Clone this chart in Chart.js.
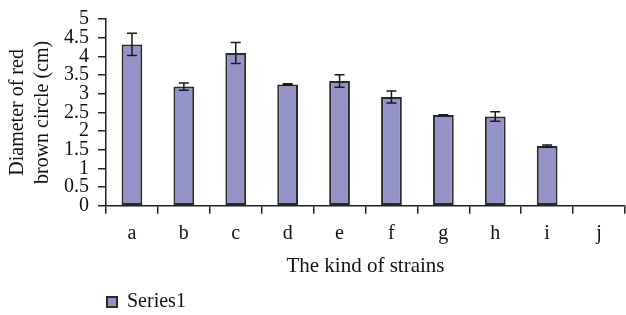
<!DOCTYPE html>
<html>
<head>
<meta charset="utf-8">
<script src="https://cdn.jsdelivr.net/npm/chart.js@4"></script>
<style>
  html, body { margin: 0; padding: 0; background: #fff; }
  #wrap { width: 626px; height: 315px; }
</style>
</head>
<body>
<div id="wrap"><canvas id="barChart"></canvas></div>
<script>
const strains = ['a', 'b', 'c', 'd', 'e', 'f', 'g', 'h', 'i', 'j'];
const diameter = [4.32, 3.19, 4.09, 3.25, 3.34, 2.91, 2.43, 2.39, 1.60, 0];
const errors = [0.30, 0.10, 0.28, 0.02, 0.17, 0.16, 0.01, 0.13, 0.03, 0];
const yTicks = [0, 0.5, 1, 1.5, 2, 2.5, 3, 3.5, 4, 4.5, 5];

const serif = "'Liberation Serif', 'DejaVu Serif', serif";
const axisColor = '#222';

// draws the error whiskers on top of each bar
const errorBars = {
    id: 'errorBars',
    afterDatasetsDraw(chart) {
        const ctx = chart.ctx;
        const y = chart.scales.y;
        const meta = chart.getDatasetMeta(0);
        ctx.save();
        ctx.strokeStyle = '#1a1a1a';
        ctx.lineWidth = 1.5;
        meta.data.forEach((bar, i) => {
            const e = errors[i];
            if (!e) return;
            const top = y.getPixelForValue(diameter[i] + e);
            const bot = y.getPixelForValue(diameter[i] - e);
            const x = bar.x;
            ctx.beginPath();
            ctx.moveTo(x, top); ctx.lineTo(x, bot);
            ctx.moveTo(x - 5, top); ctx.lineTo(x + 5, top);
            ctx.moveTo(x - 5, bot); ctx.lineTo(x + 5, bot);
            ctx.stroke();
        });
        ctx.restore();
    }
};

// move the legend so it starts under the y axis
const legendShift = {
    id: 'legendShift',
    afterLayout(chart) {
        chart.legend.left = chart.chartArea.left - 1;
    }
};

const ctxbar = document.getElementById('barChart');
const barchart = new Chart(ctxbar, {
    type: 'bar',
    data: {
        labels: strains,
        datasets: [{
            label: 'Series1',
            data: diameter,
            backgroundColor: '#9393c8',
            borderColor: '#2a2a2a',
            borderWidth: 2,
            borderSkipped: false,
            barPercentage: 0.8,
            categoryPercentage: 0.5
        }]
    },
    plugins: [errorBars, legendShift],
    options: {
        responsive: true,
        maintainAspectRatio: false,
        animation: false,
        layout: {
            padding: { top: 3, right: 1, left: 5, bottom: -7 }
        },
        scales: {
            x: {
                offset: true,
                grid: {
                    offset: true,
                    drawOnChartArea: false,
                    tickLength: 8,
                    color: axisColor,
                    lineWidth: 1.5
                },
                border: { color: axisColor, width: 1.5 },
                ticks: {
                    color: '#111',
                    padding: 8,
                    font: { family: serif, size: 20 }
                },
                title: {
                    display: true,
                    text: 'The kind of strains',
                    color: '#111',
                    padding: { top: 0, bottom: 11 },
                    font: { family: serif, size: 21 }
                }
            },
            y: {
                min: 0,
                max: 5,
                afterBuildTicks(axis) {
                    axis.ticks = yTicks.map(v => ({ value: v }));
                },
                grid: {
                    drawOnChartArea: false,
                    tickLength: 8,
                    color: axisColor,
                    lineWidth: 1.5
                },
                border: { color: axisColor, width: 1.5 },
                ticks: {
                    color: '#111',
                    padding: 9,
                    autoSkip: false,
                    callback: v => String(v),
                    font: { family: serif, size: 20, lineHeight: 1 }
                },
                title: {
                    display: true,
                    text: ['Diameter of red', 'brown circle (cm)'],
                    color: '#111',
                    padding: { top: 0, bottom: 0 },
                    font: { family: serif, size: 20, lineHeight: 1.25 }
                }
            }
        },
        plugins: {
            legend: {
                position: 'bottom',
                align: 'start',
                labels: {
                    boxWidth: 10,
                    boxHeight: 10,
                    color: '#111',
                    padding: 2,
                    font: { family: serif, size: 20 }
                }
            },
            tooltip: { enabled: false }
        }
    }
});
</script>
</body>
</html>
